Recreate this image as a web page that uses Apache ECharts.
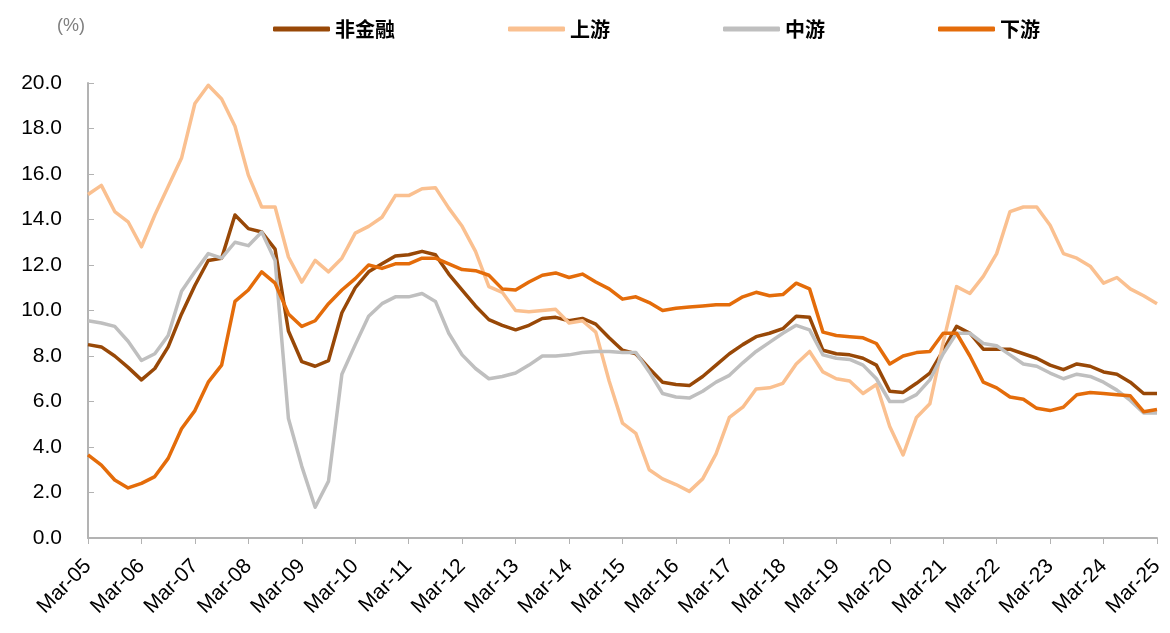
<!DOCTYPE html>
<html>
<head>
<meta charset="utf-8">
<script src="https://cdn.jsdelivr.net/npm/echarts@6/dist/echarts.min.js"></script>
<style>
html,body{margin:0;padding:0;background:#fff;}
#c{width:1170px;height:633px;}
</style>
</head>
<body>
<div id="c"></div>
<script>
// Quarterly categories Mar-05 ... Mar-25
var quarterNames = ['Mar', 'Jun', 'Sep', 'Dec'];
var categories = [];
for (var y = 5; y <= 25; y++) {
  for (var q = 0; q < 4; q++) {
    if (y === 25 && q > 0) break;
    categories.push(quarterNames[q] + '-' + (y < 10 ? '0' + y : '' + y));
  }
}

var seriesNames = ['非金融', '上游', '中游', '下游'];

var nonFinancial = [8.5, 8.4, 8.0, 7.5, 6.95, 7.45, 8.4, 9.85, 11.1, 12.2, 12.3, 14.2, 13.6, 13.45, 12.7, 9.1, 7.75, 7.55, 7.8, 9.9,
  11.0, 11.7, 12.05, 12.4, 12.45, 12.6, 12.45, 11.6, 10.9, 10.2, 9.6, 9.35, 9.15, 9.35, 9.65, 9.7, 9.55, 9.65, 9.4, 8.8,
  8.25, 8.1, 7.45, 6.85, 6.75, 6.7, 7.1, 7.6, 8.1, 8.5, 8.85, 9.0, 9.2, 9.75, 9.7, 8.25, 8.1, 8.05, 7.9, 7.6,
  6.45, 6.4, 6.8, 7.25, 8.25, 9.3, 9.0, 8.3, 8.3, 8.3, 8.1, 7.9, 7.6, 7.4, 7.65, 7.55, 7.3, 7.2, 6.85, 6.35, 6.35];

var upstream = [15.1, 15.5, 14.35, 13.9, 12.8, 14.2, 15.45, 16.7, 19.1, 19.9, 19.3, 18.1, 15.95, 14.55, 14.55, 12.35, 11.25, 12.2, 11.7, 12.3,
  13.4, 13.7, 14.1, 15.05, 15.05, 15.35, 15.4, 14.5, 13.7, 12.6, 11.05, 10.8, 10.0, 9.95, 10.0, 10.05, 9.45, 9.55, 9.05, 6.9,
  5.05, 4.6, 3.0, 2.6, 2.35, 2.05, 2.6, 3.7, 5.3, 5.75, 6.55, 6.6, 6.8, 7.65, 8.2, 7.3, 7.0, 6.9, 6.35, 6.75,
  4.9, 3.65, 5.3, 5.9, 8.6, 11.05, 10.75, 11.5, 12.5, 14.35, 14.55, 14.55, 13.75, 12.5, 12.3, 11.95, 11.2, 11.45, 10.95, 10.65, 10.3];

var midstream = [9.55, 9.45, 9.3, 8.65, 7.8, 8.1, 8.9, 10.85, 11.7, 12.5, 12.3, 13.0, 12.85, 13.45, 12.2, 5.25, 3.15, 1.35, 2.5, 7.2,
  8.5, 9.75, 10.3, 10.6, 10.6, 10.75, 10.4, 9.0, 8.05, 7.45, 7.0, 7.1, 7.25, 7.6, 8.0, 8.0, 8.05, 8.15, 8.2, 8.2,
  8.15, 8.15, 7.3, 6.35, 6.2, 6.15, 6.45, 6.85, 7.15, 7.7, 8.2, 8.6, 9.0, 9.35, 9.15, 8.05, 7.9, 7.85, 7.6, 7.0,
  6.0, 6.0, 6.3, 6.95, 8.1, 9.0, 9.0, 8.55, 8.45, 8.05, 7.65, 7.55, 7.25, 7.0, 7.2, 7.1, 6.85, 6.5, 6.05, 5.5, 5.5];

var downstream = [3.65, 3.2, 2.55, 2.2, 2.4, 2.7, 3.5, 4.8, 5.6, 6.85, 7.6, 10.4, 10.9, 11.7, 11.2, 9.85, 9.3, 9.55, 10.3, 10.9,
  11.4, 12.0, 11.85, 12.05, 12.05, 12.3, 12.3, 12.05, 11.8, 11.75, 11.55, 10.95, 10.9, 11.25, 11.55, 11.65, 11.45, 11.6, 11.25, 10.95,
  10.5, 10.6, 10.35, 10.0, 10.1, 10.15, 10.2, 10.25, 10.25, 10.6, 10.8, 10.65, 10.7, 11.2, 10.95, 9.05, 8.9, 8.85, 8.8, 8.55,
  7.65, 8.0, 8.15, 8.2, 9.0, 9.0, 8.0, 6.85, 6.6, 6.2, 6.1, 5.7, 5.6, 5.75, 6.3, 6.4, 6.35, 6.3, 6.25, 5.55, 5.65];

var seriesData = [nonFinancial, upstream, midstream, downstream];
var colors = ['#984807', '#FAC090', '#BFBFBF', '#E46C0A'];

var chart = echarts.init(document.getElementById('c'), null, {renderer: 'canvas'});
var option = {
  animation: false,
  backgroundColor: '#fff',
  title: {
    text: '(%)',
    left: 52,
    top: 12,
    textStyle: {fontSize: 18, fontWeight: 'normal', color: '#7f7f7f', fontFamily: 'Liberation Sans'}
  },
  legend: {
    left: 268,
    top: 14,
    itemWidth: 57,
    itemHeight: 5,
    itemGap: 113,
    icon: 'roundRect',
    textStyle: {fontSize: 20, fontWeight: 'bold', color: '#000', fontFamily: 'Noto Sans CJK SC'},
    data: seriesNames
  },
  grid: {left: 88, right: 13, top: 83, bottom: 95, containLabel: false},
  xAxis: {
    type: 'category',
    data: categories,
    boundaryGap: false,
    axisLine: {lineStyle: {color: '#B3B3B3', width: 2}},
    axisTick: {interval: 3, length: 6, lineStyle: {color: '#B3B3B3', width: 1}},
    axisLabel: {
      interval: 3,
      rotate: 45,
      margin: 25,
      fontSize: 21,
      color: '#000',
      fontFamily: 'Liberation Sans'
    },
    splitLine: {show: false}
  },
  yAxis: {
    type: 'value',
    min: 0,
    max: 20,
    interval: 2,
    axisLine: {show: true, lineStyle: {color: '#B3B3B3', width: 2}},
    axisTick: {show: true, inside: true, length: 6, lineStyle: {color: '#B3B3B3', width: 1}},
    axisLabel: {
      margin: 26,
      fontSize: 21,
      color: '#000',
      fontFamily: 'Liberation Sans',
      formatter: function (v) { return v.toFixed(1); }
    },
    splitLine: {show: false}
  },
  series: seriesNames.map(function (n, k) {
    return {
      name: n,
      type: 'line',
      data: seriesData[k],
      symbol: 'none',
      smooth: false,
      color: colors[k],
      lineStyle: {color: colors[k], width: 3.5, join: 'round'}
    };
  })
};
chart.setOption(option);
</script>
</body>
</html>
